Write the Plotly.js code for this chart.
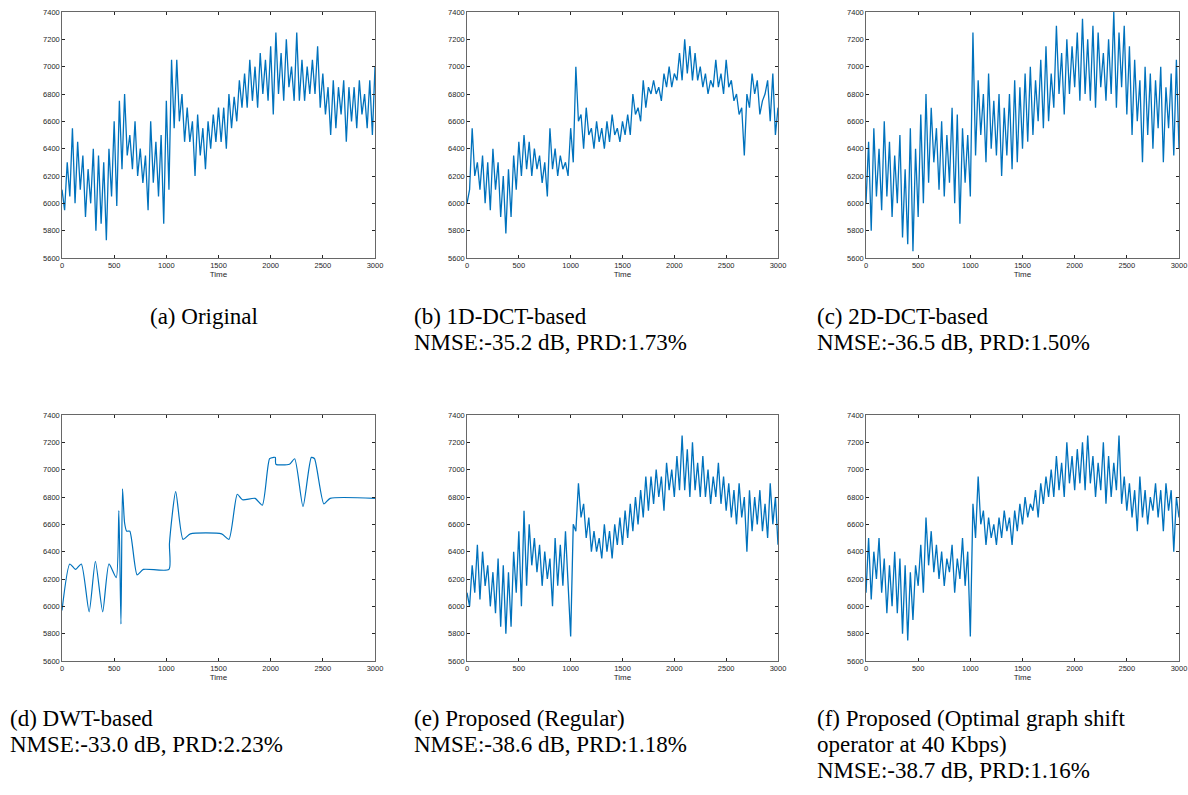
<!DOCTYPE html>
<html><head><meta charset="utf-8">
<script src="https://cdn.plot.ly/plotly-3.0.1.min.js"></script>
<style>body{margin:0;background:#fff}#plot{width:1188px;height:795px}</style>
</head><body><div id="plot"></div>
<script>
// sampled every 25 time steps, 0..3000
const original = [6100,5950,6300,6050,6550,6000,6450,6100,6350,5900,6250,6000,6400,5800,6350,5850,6300,5730,6400,6050,
6600,5980,6750,6250,6800,6350,6500,6250,6600,6200,6400,6150,6350,5950,6600,6150,6450,6050,6500,5850,
6750,6100,7050,6550,7050,6600,6800,6450,6700,6450,6600,6200,6650,6350,6550,6250,6600,6400,6650,6450,
6700,6450,6700,6400,6800,6550,6780,6600,6900,6700,6950,6700,7050,6750,7000,6700,7100,6800,7050,6750,
7150,6650,7250,6800,7100,6750,7200,6850,7000,6750,7250,6750,7050,6750,7000,6800,7050,6800,7150,6700,
6950,6650,6850,6500,6900,6550,6850,6650,6900,6450,6850,6600,6850,6550,6900,6650,6800,6550,6900,6500,7000];
const dct1d = [6000,6100,6550,6200,6300,6100,6350,6000,6300,5950,6400,6100,6300,5900,6200,5780,6250,5900,6350,6100,
6450,6200,6500,6250,6450,6200,6400,6250,6350,6150,6300,6050,6550,6250,6400,6200,6350,6250,6300,6200,
6550,6300,7000,6600,6650,6400,6700,6500,6550,6400,6600,6450,6550,6400,6600,6450,6650,6500,6550,6450,
6600,6500,6650,6500,6800,6650,6700,6600,6900,6700,6850,6800,6900,6800,6850,6750,6950,6850,7000,6850,
6950,6900,7100,6900,7200,6950,7150,6900,7100,6900,7000,6850,6950,6800,6900,6850,7050,6850,6950,6800,
7050,6850,6900,6750,6800,6650,6700,6350,6800,6700,6950,6800,6900,6650,6750,6800,6900,6600,6950,6500,6700];
const dct2d = [6000,6450,5800,6550,6050,6400,5950,6600,6050,6450,5900,6350,6000,6500,5750,6250,5700,6550,5650,6400,
5900,6650,6000,6800,6150,6700,6300,6550,6100,6600,6050,6500,6150,6700,6000,6650,5850,6550,6150,6500,
6050,7250,6350,6900,6500,6800,6300,6950,6400,6750,6350,6800,6200,6700,6350,6800,6250,6900,6300,6850,
6400,6950,6450,7000,6500,6900,6600,7050,6550,7150,6600,6950,6700,7300,6800,7100,6650,7200,6800,7150,
6850,7250,6750,7350,6800,7200,6750,7300,6700,7250,6850,7100,6750,7200,6800,7400,6700,7250,6850,7300,
6650,7150,6500,7050,6600,6900,6300,7000,6500,6950,6400,6900,6550,7000,6300,6850,6550,6950,6350,7050,6400];
const propRegular = [6100,6000,6300,6100,6450,6050,6400,6150,6300,6000,6250,5950,6350,5850,6300,5800,6250,5850,6400,6100,
6550,6000,6700,6150,6600,6300,6500,6250,6450,6150,6400,6200,6350,6000,6500,6150,6450,6150,6550,6150,
5780,6600,6550,6900,6650,6750,6500,6650,6400,6550,6400,6500,6350,6600,6400,6550,6350,6600,6450,6650,
6450,6700,6500,6750,6550,6800,6600,6850,6650,6950,6700,6950,6750,7000,6800,6950,6700,7050,6850,7000,
6800,7100,6850,7250,6850,7150,6800,7200,6850,7050,6800,7100,6800,7000,6750,6950,6800,7050,6750,6950,
6700,6900,6650,6850,6600,6900,6650,6800,6400,6850,6550,6800,6600,6850,6550,6750,6500,6900,6600,6800,6450];
const propOptimal = [6100,6500,6050,6400,6200,6500,6100,6350,5950,6300,6000,6400,5950,6350,5800,6300,5750,6250,5900,6300,
6150,6450,6100,6650,6300,6550,6250,6450,6200,6400,6150,6350,6250,6450,6100,6350,6200,6500,6150,6400,
5780,6750,6500,6950,6600,6700,6450,6650,6500,6600,6450,6650,6500,6700,6550,6650,6450,6700,6550,6750,
6600,6800,6650,6750,6700,6850,6650,6900,6750,6950,6800,7000,6800,7100,6850,7050,6800,7200,6900,7100,
6850,7150,6900,7200,6850,7250,6900,7100,6800,7050,6850,7200,6750,7100,6800,7050,6850,7250,6750,6950,
6700,6900,6650,6850,6550,6950,6650,6850,6600,6800,6700,6900,6650,6850,6550,6900,6700,6850,6400,6800,6650];
// DWT reconstruction: breakpoints
const dwtTime = [0,75,130,185,260,320,390,450,520,545,565,580,600,620,650,720,780,1025,1030,1090,1160,1230,1530,1600,1680,1730,1850,1920,1990,2030,2045,2050,2180,2230,2310,2390,2420,2510,2570,3000];
const dwtVal = [5970,6310,6270,6310,5960,6330,5960,6310,6210,6700,5870,6860,6610,6550,6550,6230,6270,6270,6460,6840,6490,6530,6530,6490,6820,6780,6790,6740,7080,7090,7090,7040,7040,7080,6730,7090,7080,6750,6790,6790];

const time = original.map((_, i) => i * 25);
const blue = '#0072BD';
const ink = '#262626';

const panels = [
  {y: original, cap: ['(a) Original']},
  {y: dct1d, cap: ['(b) 1D-DCT-based', 'NMSE:-35.2 dB, PRD:1.73%']},
  {y: dct2d, cap: ['(c) 2D-DCT-based', 'NMSE:-36.5 dB, PRD:1.50%']},
  {x: dwtTime, y: dwtVal, cap: ['(d) DWT-based', 'NMSE:-33.0 dB, PRD:2.23%']},
  {y: propRegular, cap: ['(e) Proposed (Regular)', 'NMSE:-38.6 dB, PRD:1.18%']},
  {y: propOptimal, cap: ['(f) Proposed (Optimal graph shift', 'operator at 40 Kbps)', 'NMSE:-38.7 dB, PRD:1.16%']}
];

const W = 1188, H = 795;
const colPx = [[62, 375], [467, 778], [866, 1179]];
const rowPx = [[12, 258], [415, 661]];
const capLeft = [[148, 412, 815], [8, 412, 815]];
const capTop = [316, 718];

const data = [], annotations = [];
const layout = {width: W, height: H, margin: {l: 0, r: 0, t: 0, b: 0},
  paper_bgcolor: '#fff', plot_bgcolor: '#fff', showlegend: false,
  font: {family: 'Liberation Sans, Arial', color: ink}};

panels.forEach((p, k) => {
  const r = Math.floor(k / 3), c = k % 3, n = k + 1;
  const xa = 'xaxis' + (n === 1 ? '' : n), ya = 'yaxis' + (n === 1 ? '' : n);
  data.push({x: p.x || time, y: p.y, type: 'scatter', mode: 'lines',
    line: k === 3 ? {color: blue, width: 1.2, shape: 'spline', smoothing: 0.6} : {color: blue, width: 1.3},
    xaxis: 'x' + (n === 1 ? '' : n), yaxis: 'y' + (n === 1 ? '' : n)});
  const common = {showgrid: false, zeroline: false, ticks: 'inside', ticklen: 3,
    showline: true, mirror: 'allticks', linecolor: ink, linewidth: 0.7, tickcolor: ink,
    tickfont: {size: 7.5, color: ink}};
  layout[xa] = Object.assign({}, common, {domain: [colPx[c][0] / W, colPx[c][1] / W],
    range: [0, 3000], tickvals: [0, 500, 1000, 1500, 2000, 2500, 3000],
    anchor: 'y' + (n === 1 ? '' : n), title: {text: 'Time', font: {size: 8, color: ink}, standoff: 2}});
  layout[ya] = Object.assign({}, common, {domain: [1 - rowPx[r][1] / H, 1 - rowPx[r][0] / H],
    range: [5600, 7400], dtick: 200, anchor: 'x' + (n === 1 ? '' : n)});
  p.cap.forEach((line, j) => {
    annotations.push({text: line, xref: 'paper', yref: 'paper', x: capLeft[r][c] / W,
      y: 1 - (capTop[r] + j * 26) / H, xanchor: 'left', yanchor: 'middle', showarrow: false,
      font: {family: 'Liberation Serif, Times New Roman', size: 23, color: '#000'}});
  });
});
layout.annotations = annotations;

Plotly.newPlot('plot', data, layout, {staticPlot: true});
</script>
</body></html>
